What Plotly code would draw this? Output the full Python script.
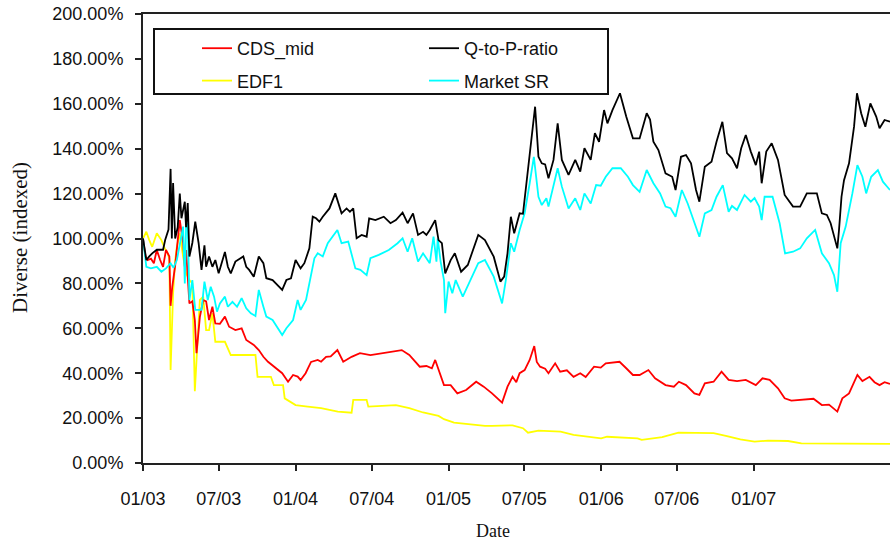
import plotly.graph_objects as go

# ---------------- data (values in % of the starting level) ----------------
tick_dates = ["2003-01-01", "2003-07-01", "2004-01-01", "2004-07-01", "2005-01-01",
              "2005-07-01", "2006-01-01", "2006-07-01", "2007-01-01"]
tick_labels = ["01/03", "07/03", "01/04", "07/04", "01/05", "07/05", "01/06", "07/06", "01/07"]
y_ticks = [0, 20, 40, 60, 80, 100, 120, 140, 160, 180, 200]

qp_dates = ["2003-01-01", "2003-01-09", "2003-01-16", "2003-01-23", "2003-02-03", "2003-02-18", "2003-02-23",
            "2003-03-03", "2003-03-08", "2003-03-11", "2003-03-14", "2003-03-19", "2003-03-25", "2003-03-30",
            "2003-04-03", "2003-04-11", "2003-04-14", "2003-04-18", "2003-04-22", "2003-04-29", "2003-05-06",
            "2003-05-14", "2003-05-21", "2003-05-28", "2003-06-01", "2003-06-08", "2003-06-16", "2003-06-23",
            "2003-07-01", "2003-07-08", "2003-07-16", "2003-07-23", "2003-07-30", "2003-08-10", "2003-08-29",
            "2003-09-05", "2003-09-12", "2003-09-23", "2003-10-05", "2003-10-16", "2003-10-23", "2003-11-07",
            "2003-11-30", "2003-12-10", "2003-12-21", "2004-01-01", "2004-01-13", "2004-01-22", "2004-02-03",
            "2004-02-11", "2004-02-19", "2004-02-27", "2004-03-06", "2004-03-22", "2004-04-05", "2004-04-20",
            "2004-05-02", "2004-05-10", "2004-05-18", "2004-05-26", "2004-06-07", "2004-06-19", "2004-06-25",
            "2004-07-10", "2004-07-30", "2004-08-15", "2004-08-28", "2004-09-13", "2004-09-25", "2004-10-08",
            "2004-10-20", "2004-11-01", "2004-11-09", "2004-11-17", "2004-11-30", "2004-12-08", "2004-12-16",
            "2004-12-24", "2005-01-06", "2005-01-16", "2005-01-31", "2005-02-16", "2005-03-13", "2005-03-29",
            "2005-04-19", "2005-05-05", "2005-05-14", "2005-05-22", "2005-05-30", "2005-06-07", "2005-06-20",
            "2005-06-28", "2005-07-06", "2005-07-14", "2005-07-21", "2005-07-27", "2005-08-04", "2005-08-12",
            "2005-08-20", "2005-08-28", "2005-09-09", "2005-09-19", "2005-09-29", "2005-10-15", "2005-10-31",
            "2005-11-12", "2005-11-22", "2005-12-07", "2005-12-17", "2005-12-27", "2006-01-08", "2006-01-16",
            "2006-01-28", "2006-02-15", "2006-03-02", "2006-03-18", "2006-04-03", "2006-04-20", "2006-04-28",
            "2006-05-06", "2006-05-18", "2006-06-04", "2006-06-20", "2006-06-28", "2006-07-11", "2006-07-23",
            "2006-08-04", "2006-08-16", "2006-08-24", "2006-09-06", "2006-09-22", "2006-10-04", "2006-10-18",
            "2006-10-29", "2006-11-10", "2006-11-22", "2006-12-02", "2006-12-13", "2006-12-25", "2007-01-06",
            "2007-01-14", "2007-01-20", "2007-01-31", "2007-02-13", "2007-02-28", "2007-03-16", "2007-04-05",
            "2007-04-22", "2007-05-08", "2007-06-01", "2007-06-13", "2007-06-25", "2007-07-04", "2007-07-20",
            "2007-07-24", "2007-07-30", "2007-08-05", "2007-08-17", "2007-08-29", "2007-09-05", "2007-09-15",
            "2007-09-25", "2007-10-07", "2007-10-21", "2007-10-29", "2007-11-10", "2007-11-23"]
qp_values = [100, 90.4, 92, 93.4, 95, 95, 99.3,
             104, 131, 100, 124.7, 100, 105, 120,
             109, 116.4, 105, 115.8, 92, 98, 107.5,
             98, 86, 97, 87.4, 92, 87.4, 90.4,
             84.5, 89, 94, 87.4, 84.5, 89.7, 92,
             87.4, 86, 83, 92, 89, 82.3, 81.5,
             77.1, 81.5, 82.3, 90.4, 86.7, 89, 95.6,
             109.7, 109, 107.5, 109.7, 113.4, 120.1, 111.2,
             113.4, 111.9, 113.4, 100.1, 101.6, 100.8, 109,
             108.2, 109.7, 106.8, 108.2, 111.5, 106.8, 111.2,
             101.6, 103, 101.6, 103.8, 108.2, 99.3, 97.9,
             84.5, 90.4, 93.4, 85.2, 88.2, 101.6, 99.3,
             91.9, 80.8, 83, 93.4, 109.7, 102.3, 111.2,
             111, 124.6, 136.4, 148.3, 158.7, 136.4, 133.5,
             133, 126.8, 135, 151.3, 135, 128.3, 135,
             129.8, 140.2, 135, 146.9, 143.1, 157.2, 151.3,
             157.2, 164.7, 154.3, 144.6, 144.6, 155.8, 153,
             143.1, 139.4, 129, 127.5, 121.6, 136.4, 137.2,
             133.5, 121.6, 116.4, 132, 134.2, 143.1, 152,
             138, 135.7, 131.3, 140.2, 146.1, 138.7, 132.7,
             138.7, 124.6, 138.7, 142.4, 135, 119.4, 114.2,
             114.2, 120.1, 120.1, 111.2, 110.5, 106.8, 95.6,
             103.8, 118.6, 126, 133.5, 149.8, 164.7, 155.8,
             149.8, 160.2, 154.3, 149.1, 152.8, 152]

sr_dates = ["2003-01-01", "2003-01-09", "2003-01-20", "2003-02-03", "2003-02-14", "2003-02-25", "2003-03-08",
            "2003-03-15", "2003-03-23", "2003-03-30", "2003-04-07", "2003-04-11", "2003-04-14", "2003-04-18",
            "2003-04-22", "2003-04-29", "2003-05-06", "2003-05-21", "2003-05-28", "2003-06-05", "2003-06-12",
            "2003-06-20", "2003-06-27", "2003-07-04", "2003-07-16", "2003-07-23", "2003-08-03", "2003-08-14",
            "2003-08-25", "2003-09-05", "2003-09-16", "2003-09-27", "2003-10-05", "2003-10-16", "2003-10-23",
            "2003-11-07", "2003-11-30", "2003-12-10", "2003-12-26", "2004-01-06", "2004-01-13", "2004-01-26",
            "2004-02-07", "2004-02-15", "2004-02-23", "2004-03-06", "2004-03-18", "2004-04-10", "2004-04-20",
            "2004-05-06", "2004-05-23", "2004-06-04", "2004-06-19", "2004-06-28", "2004-07-18", "2004-08-11",
            "2004-09-01", "2004-09-13", "2004-09-25", "2004-10-06", "2004-10-20", "2004-11-01", "2004-11-17",
            "2004-11-26", "2004-12-03", "2004-12-06", "2004-12-13", "2004-12-21", "2004-12-24", "2005-01-01",
            "2005-01-10", "2005-01-18", "2005-02-04", "2005-02-20", "2005-03-13", "2005-03-29", "2005-04-19",
            "2005-05-09", "2005-05-18", "2005-05-30", "2005-06-07", "2005-06-20", "2005-07-02", "2005-07-14",
            "2005-07-24", "2005-08-04", "2005-08-12", "2005-08-23", "2005-08-28", "2005-09-19", "2005-09-29",
            "2005-10-15", "2005-10-31", "2005-11-12", "2005-11-22", "2005-12-07", "2005-12-20", "2005-12-31",
            "2006-01-12", "2006-01-28", "2006-02-17", "2006-03-06", "2006-03-18", "2006-04-03", "2006-04-20",
            "2006-05-06", "2006-05-22", "2006-06-04", "2006-06-16", "2006-06-28", "2006-07-13", "2006-07-27",
            "2006-08-12", "2006-08-24", "2006-09-06", "2006-09-22", "2006-10-04", "2006-10-19", "2006-11-02",
            "2006-11-10", "2006-11-22", "2006-12-10", "2006-12-25", "2007-01-03", "2007-01-14", "2007-01-20",
            "2007-01-27", "2007-02-15", "2007-03-04", "2007-03-17", "2007-04-05", "2007-04-22", "2007-05-08",
            "2007-05-28", "2007-06-13", "2007-06-30", "2007-07-12", "2007-07-20", "2007-07-28", "2007-08-09",
            "2007-08-25", "2007-09-06", "2007-09-18", "2007-09-27", "2007-10-09", "2007-10-25", "2007-11-06",
            "2007-11-23"]
sr_values = [100, 87.4, 86.7, 87.4, 85.2, 86.7, 89,
             87, 90.4, 97.9, 105.3, 80, 105.3, 106.8,
             72.6, 81.5, 68.2, 68.2, 80.8, 72.6, 78.5,
             74.1, 67.4, 71.1, 74.1, 69.6, 71.8, 69.6,
             73.4, 68.9, 66.7, 65.5, 77.1, 69.6, 65.2,
             63.7, 57, 60, 63.7, 72.6, 68.2, 72.6,
             84.5, 91.2, 93.4, 92, 97.9, 103.8, 97.9,
             98.6, 86.7, 86, 83.7, 91.2, 92.7, 94.9,
             97.9, 100.1, 94.1, 100.1, 89.7, 93.4, 89,
             100.8, 89.7, 100, 89.7, 81.5, 66.7, 80.8,
             75.6, 81.5, 74.1, 80.8, 89, 90.4, 83,
             71.1, 81.5, 97.9, 94.1, 103.8, 111.2, 124.6,
             136.4, 118.6, 114.9, 117.9, 114.2, 131.3, 123.1,
             113.4, 117.9, 112.7, 120.1, 115.6, 123.8, 123.5,
             127.5, 131.3, 131.3, 127.5, 123.8, 120.8, 130.5,
             124.6, 120.1, 114.2, 113.5, 109.7, 121.6, 115.6,
             106.8, 100.8, 111.2, 112.7, 118.6, 123.8, 111.9,
             114.5, 112.7, 119.4, 116.4, 118, 114.2, 108.2,
             118.6, 118.6, 106.8, 93.4, 94.1, 95.6, 100.1,
             103.8, 93.4, 89, 83.7, 76.3, 97.9, 105.3,
             120.1, 132.7, 127.5, 120.1, 127.5, 130.5, 125.3,
             121.6]

cds_dates = ["2003-01-01", "2003-01-07", "2003-01-12", "2003-01-20", "2003-01-27", "2003-02-03", "2003-02-11",
             "2003-02-18", "2003-02-25", "2003-03-05", "2003-03-08", "2003-03-12", "2003-03-19", "2003-03-23",
             "2003-03-30", "2003-04-07", "2003-04-11", "2003-04-14", "2003-04-22", "2003-04-29", "2003-05-05",
             "2003-05-09", "2003-05-12", "2003-05-17", "2003-05-25", "2003-06-01", "2003-06-08", "2003-06-16",
             "2003-06-23", "2003-07-04", "2003-07-16", "2003-07-26", "2003-08-10", "2003-08-25", "2003-09-05",
             "2003-09-23", "2003-10-05", "2003-10-16", "2003-10-27", "2003-11-15", "2003-11-30", "2003-12-14",
             "2003-12-26", "2004-01-06", "2004-01-13", "2004-01-25", "2004-02-07", "2004-02-23", "2004-03-02",
             "2004-03-14", "2004-03-25", "2004-04-10", "2004-04-24", "2004-05-14", "2004-06-03", "2004-06-28",
             "2004-07-26", "2004-08-24", "2004-09-11", "2004-09-29", "2004-10-24", "2004-11-09", "2004-11-22",
             "2004-11-30", "2004-12-08", "2004-12-21", "2005-01-06", "2005-01-22", "2005-02-12", "2005-03-08",
             "2005-03-26", "2005-04-15", "2005-05-09", "2005-05-22", "2005-06-03", "2005-06-12", "2005-06-20",
             "2005-07-02", "2005-07-14", "2005-07-25", "2005-07-31", "2005-08-08", "2005-08-20", "2005-08-28",
             "2005-09-13", "2005-09-25", "2005-10-11", "2005-10-27", "2005-11-12", "2005-11-25", "2005-12-15",
             "2005-12-31", "2006-01-12", "2006-02-14", "2006-03-02", "2006-03-18", "2006-04-03", "2006-04-24",
             "2006-05-10", "2006-06-04", "2006-06-24", "2006-07-06", "2006-07-23", "2006-08-12", "2006-08-24",
             "2006-09-06", "2006-09-27", "2006-10-16", "2006-11-02", "2006-11-22", "2006-12-13", "2007-01-06",
             "2007-01-22", "2007-02-08", "2007-02-28", "2007-03-16", "2007-04-01", "2007-04-30", "2007-05-24",
             "2007-06-13", "2007-06-30", "2007-07-20", "2007-08-01", "2007-08-17", "2007-09-06", "2007-09-18",
             "2007-10-05", "2007-10-17", "2007-10-29", "2007-11-10", "2007-11-23"]
cds_values = [100, 92, 90.4, 91, 89, 94.9, 90.4,
              87.4, 94.9, 92, 70, 78.5, 88, 94.9,
              108.2, 97.9, 87.4, 94.9, 71.1, 72, 63.7,
              48.9, 54.8, 65, 72.6, 72, 63.7, 69.6,
              62.2, 62, 65.2, 60.7, 59.2, 60, 54.8,
              52.6, 50.3, 47.3, 45.1, 42.2, 40, 36.2,
              39.2, 38.5, 37, 40, 45, 45.9, 45.1,
              47.3, 47.5, 50.3, 45.1, 47.3, 48.9, 48.1,
              48.9, 49.6, 50.3, 48.1, 42.9, 43.2, 42.2,
              45.9, 41.4, 34.7, 34.7, 31, 32.5, 36.2,
              34, 31, 26.9, 34, 38.4, 36, 40,
              41.4, 45.9, 52.1, 45, 42.9, 42, 40,
              44.4, 40.7, 41.3, 38.4, 40, 38.3, 42.9,
              42.5, 44.4, 45.1, 42.2, 39.2, 39.2, 41.4,
              37.7, 34.7, 34, 36.2, 34.7, 31, 30.3,
              35.5, 36.2, 40.7, 37, 36.5, 37, 34.7,
              37.7, 37, 33.3, 28.8, 27.8, 28.4, 28.6,
              25.8, 26, 22.9, 28.8, 31, 39.2, 36.5,
              38.4, 36, 34.7, 36, 35.2]

edf_dates = ["2003-01-01", "2003-01-09", "2003-01-16", "2003-01-23", "2003-02-03", "2003-02-14", "2003-02-22",
             "2003-03-01", "2003-03-05", "2003-03-08", "2003-03-14", "2003-03-19", "2003-03-23", "2003-03-30",
             "2003-04-07", "2003-04-14", "2003-04-22", "2003-04-29", "2003-05-05", "2003-05-10", "2003-05-17",
             "2003-05-25", "2003-06-01", "2003-06-08", "2003-06-16", "2003-06-23", "2003-07-16", "2003-07-30",
             "2003-09-27", "2003-10-02", "2003-11-03", "2003-11-10", "2003-12-02", "2003-12-06", "2004-01-01",
             "2004-01-30", "2004-03-02", "2004-04-11", "2004-05-14", "2004-05-18", "2004-06-19", "2004-06-23",
             "2004-08-28", "2004-09-29", "2004-11-01", "2004-12-08", "2004-12-21", "2005-01-14", "2005-03-04",
             "2005-03-29", "2005-04-15", "2005-06-03", "2005-06-28", "2005-07-10", "2005-08-04", "2005-09-26",
             "2005-10-27", "2005-12-15", "2006-01-01", "2006-01-15", "2006-03-29", "2006-04-08", "2006-05-27",
             "2006-07-05", "2006-09-27", "2006-10-29", "2006-11-30", "2007-01-03", "2007-02-04", "2007-03-24",
             "2007-04-25", "2007-11-23"]
edf_values = [100, 103, 99.3, 96.3, 102.3, 99.3, 95.6,
              93.4, 91, 41.4, 75.6, 90.4, 96.3, 102.3,
              91.9, 84.5, 81.5, 80, 32, 51.8, 72.6,
              74.1, 59.2, 59.2, 66.7, 54, 54, 48.1,
              48.1, 38.4, 38.4, 34.7, 34.7, 28.8, 25.8,
              25.1, 24.4, 22.9, 22.4, 28.1, 28.1, 25.1,
              25.8, 24.4, 22.5, 21, 19.5, 18, 17,
              16.5, 16.5, 16.8, 15.5, 13.5, 14.4, 14,
              12.5, 11.5, 11, 11.7, 11, 10.3, 11.5,
              13.5, 13.3, 12, 10.5, 9.5, 10, 9.8,
              8.7, 8.5]

# ---------------- figure ----------------
W, H = 890, 543
L, R, T, B = 143, 0, 14, 80
pw, ph = W - L - R, H - T - B

def px_x(p):
    return (p - L) / pw

def px_y(p):
    return (H - B - p) / ph

fig = go.Figure()
line_w = 1.8
fig.add_trace(go.Scatter(x=edf_dates, y=edf_values, mode="lines", name="EDF1",
                         line=dict(color="#FFFF00", width=line_w), legend="legend",
                         legendrank=2, legendgroup="e"))
fig.add_trace(go.Scatter(x=cds_dates, y=cds_values, mode="lines", name="CDS_mid",
                         line=dict(color="#FF0000", width=line_w), legend="legend",
                         legendrank=1, legendgroup="c"))
fig.add_trace(go.Scatter(x=sr_dates, y=sr_values, mode="lines", name="Market SR",
                         line=dict(color="#00FFFF", width=line_w), legend="legend2",
                         legendrank=2, legendgroup="m"))
fig.add_trace(go.Scatter(x=qp_dates, y=qp_values, mode="lines", name="Q-to-P-ratio",
                         line=dict(color="#000000", width=line_w), legend="legend2",
                         legendrank=1, legendgroup="q"))

tick_font = dict(family="Arial, Liberation Sans, sans-serif", size=18, color="#111111")
leg_common = dict(orientation="v", xref="paper", yref="paper", xanchor="left", yanchor="top",
                  bgcolor="rgba(0,0,0,0)", borderwidth=0, tracegroupgap=6,
                  font=dict(family="Arial, Liberation Sans, sans-serif", size=18, color="#111111"),
                  traceorder="grouped")

fig.update_layout(
    width=W, height=H,
    margin=dict(l=L, r=R, t=T, b=B, pad=0, autoexpand=False),
    paper_bgcolor="white", plot_bgcolor="white",
    showlegend=True,
    legend=dict(x=px_x(197), y=px_y(30), **leg_common),
    legend2=dict(x=px_x(424), y=px_y(30), **leg_common),
    xaxis=dict(type="date", range=["2003-01-01", "2007-11-23"], automargin=False,
               tickmode="array", tickvals=tick_dates, ticktext=tick_labels,
               ticks="outside", ticklen=6, tickwidth=2, tickcolor="#222222",
               showline=True, linecolor="#222222", linewidth=2, mirror=True,
               showgrid=False, zeroline=False, tickfont=tick_font,
               ticklabelstandoff=12),
    yaxis=dict(range=[0, 200], automargin=False, tickmode="array", tickvals=y_ticks,
               ticktext=[f"{v:.2f}%" for v in y_ticks],
               ticks="outside", ticklen=6, tickwidth=2, tickcolor="#222222",
               showline=True, linecolor="#222222", linewidth=2,
               showgrid=False, zeroline=False, tickfont=tick_font,
               ticklabelstandoff=8),
    shapes=[dict(type="rect", xref="paper", yref="paper",
                 x0=px_x(154), x1=px_x(608), y0=px_y(94), y1=px_y(29),
                 line=dict(color="#111111", width=2), fillcolor="rgba(0,0,0,0)", layer="above")],
    annotations=[
        dict(text="Date", xref="paper", yref="paper", x=px_x(493), y=px_y(531),
             xanchor="center", yanchor="middle", showarrow=False,
             font=dict(family="Times New Roman, Liberation Serif, serif", size=18, color="#111111")),
        dict(text="Diverse (indexed)", xref="paper", yref="paper", x=px_x(20), y=px_y(238),
             xanchor="center", yanchor="middle", showarrow=False, textangle=-90,
             font=dict(family="Times New Roman, Liberation Serif, serif", size=21, color="#111111")),
    ],
)

fig.write_html("out.html", config={"displayModeBar": False},
               post_script="document.body.style.margin='0px';document.body.style.overflow='hidden';")
